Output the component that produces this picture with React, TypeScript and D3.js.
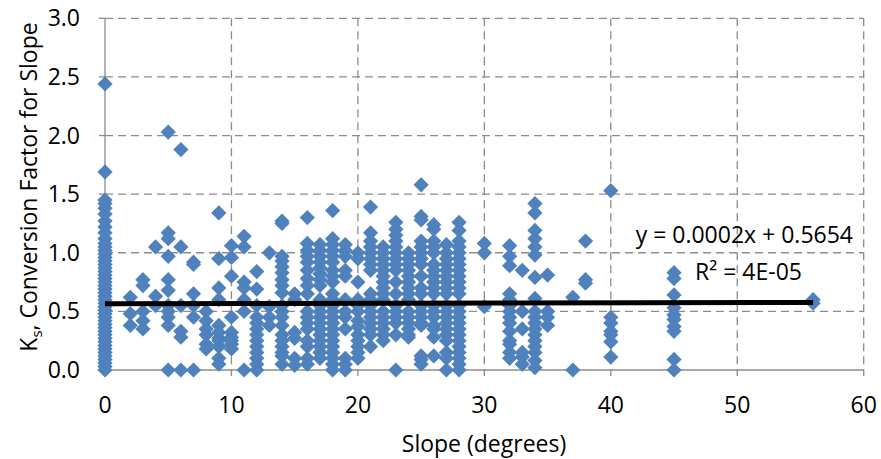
import React from "react";
import * as d3 from "d3";

const xTicks = [0, 10, 20, 30, 40, 50, 60];
const yTicks = [0, 0.5, 1.0, 1.5, 2.0, 2.5, 3.0];

// slope (degrees) column -> Ks values
const slopeValues = [0, 2, 3, 4, 5, 6, 7, 8, 9, 10, 11, 12, 13, 14, 15, 16, 17, 18, 19, 20, 21, 22, 23, 24, 25, 26, 27, 28, 30, 32, 33, 34, 35, 37, 38, 40, 45, 56];
const ksValues: number[][] = [
  [0, 0.03, 0.06, 0.09, 0.12, 0.15, 0.18, 0.21, 0.24, 0.27, 0.3, 0.33, 0.36, 0.39, 0.42, 0.45, 0.48, 0.51, 0.54, 0.57, 0.6, 0.63, 0.66, 0.69, 0.72, 0.75, 0.78, 0.81, 0.84, 0.87, 0.9, 0.93, 0.96, 0.99, 1.02, 1.05, 1.08, 1.12, 1.17, 1.22, 1.27, 1.33, 1.38, 1.42, 1.45, 1.69, 2.44],
  [0.62, 0.48, 0.38],
  [0.77, 0.72, 0.5, 0.42, 0.35],
  [1.05, 0.63, 0.55],
  [2.03, 1.17, 1.12, 0.97, 0.77, 0.68, 0.55, 0.5, 0.45, 0.38, 0.0],
  [1.88, 1.05, 0.55, 0.33, 0.28, 0.0],
  [0.92, 0.9, 0.65, 0.55, 0.45, 0.0],
  [0.5, 0.42, 0.35, 0.3, 0.22, 0.18],
  [1.34, 0.95, 0.7, 0.6, 0.38, 0.32, 0.27, 0.25, 0.2, 0.1, 0.05],
  [1.06, 0.96, 0.8, 0.45, 0.32, 0.28, 0.25, 0.22, 0.18],
  [1.14, 1.05, 0.75, 0.7, 0.6, 0.5, 0.0],
  [0.84, 0.69, 0.55, 0.45, 0.4, 0.35, 0.3, 0.25, 0.2, 0.15, 0.1, 0.05, 0.0],
  [1.0, 0.54, 0.45, 0.38],
  [1.27, 1.25, 0.97, 0.93, 0.88, 0.83, 0.77, 0.72, 0.66, 0.55, 0.5, 0.45, 0.38, 0.3, 0.25, 0.2, 0.15, 0.12, 0.05],
  [0.65, 0.6, 0.32, 0.27, 0.1, 0.04],
  [1.3, 1.08, 1.02, 0.97, 0.92, 0.85, 0.78, 0.72, 0.65, 0.5, 0.45, 0.4, 0.35, 0.25, 0.2, 0.1, 0.05],
  [1.07, 1.02, 0.97, 0.92, 0.87, 0.82, 0.77, 0.72, 0.6, 0.55, 0.5, 0.45, 0.4, 0.35, 0.3, 0.25, 0.2, 0.15, 0.1],
  [1.36, 1.12, 1.07, 1.02, 0.97, 0.92, 0.85, 0.8, 0.75, 0.65, 0.6, 0.55, 0.5, 0.45, 0.4, 0.35, 0.3, 0.25, 0.2, 0.15, 0.1, 0.05, 0.0],
  [1.07, 1.02, 0.97, 0.85, 0.8, 0.6, 0.5, 0.45, 0.35, 0.1, 0.05, 0.0],
  [1.0, 0.95, 0.75, 0.6, 0.55, 0.5, 0.42, 0.37, 0.3, 0.25, 0.2, 0.15, 0.1],
  [1.39, 1.17, 1.1, 1.05, 1.0, 0.95, 0.9, 0.85, 0.65, 0.6, 0.55, 0.5, 0.45, 0.4, 0.35, 0.3, 0.2],
  [1.05, 1.0, 0.95, 0.9, 0.85, 0.8, 0.75, 0.7, 0.65, 0.6, 0.5, 0.45, 0.4, 0.35, 0.3, 0.25],
  [1.26, 1.2, 1.15, 1.1, 1.05, 1.0, 0.95, 0.9, 0.85, 0.75, 0.65, 0.55, 0.5, 0.45, 0.4, 0.3, 0.0],
  [1.0, 0.95, 0.9, 0.85, 0.8, 0.75, 0.7, 0.65, 0.6, 0.5, 0.45, 0.4, 0.35, 0.3, 0.28],
  [1.58, 1.31, 1.28, 1.1, 1.05, 1.0, 0.95, 0.9, 0.8, 0.7, 0.65, 0.55, 0.5, 0.45, 0.4, 0.38, 0.12, 0.09, 0.05],
  [1.24, 1.2, 1.1, 1.05, 1.0, 0.9, 0.85, 0.8, 0.75, 0.7, 0.65, 0.55, 0.5, 0.45, 0.38, 0.35, 0.28, 0.12],
  [1.07, 1.0, 0.95, 0.9, 0.85, 0.8, 0.75, 0.7, 0.65, 0.55, 0.5, 0.45, 0.4, 0.35, 0.3, 0.25, 0.15, 0.1, 0.0],
  [1.26, 1.19, 1.1, 1.05, 1.0, 0.95, 0.9, 0.85, 0.8, 0.75, 0.7, 0.65, 0.55, 0.5, 0.45, 0.4, 0.35, 0.3, 0.25, 0.2, 0.15, 0.1, 0.05, 0.0],
  [1.08, 1.0, 0.54],
  [1.06, 0.97, 0.89, 0.65, 0.6, 0.55, 0.5, 0.45, 0.4, 0.33, 0.25, 0.22, 0.15, 0.1],
  [0.85, 0.5, 0.35, 0.15, 0.11, 0.05],
  [1.42, 1.34, 1.19, 1.12, 1.05, 0.98, 0.79, 0.61, 0.5, 0.45, 0.4, 0.35, 0.3, 0.25, 0.2, 0.15, 0.08, 0.02],
  [0.81, 0.5, 0.45, 0.38],
  [0.62, 0.0],
  [1.1, 0.77, 0.74],
  [1.53, 0.45, 0.4, 0.33, 0.3, 0.24, 0.11],
  [0.83, 0.78, 0.64, 0.53, 0.47, 0.43, 0.37, 0.33, 0.09, 0.0],
  [0.6, 0.57],
];

const trendSlope = 0.0002;
const trendIntercept = 0.5654;
const trendRange = [0, 56];
const equationText = "y = 0.0002x + 0.5654";
const r2Text = "R² = 4E-05";

const W = 881;
const H = 459;
const left = 105;
const right = 863.7;
const top = 18.3;
const bottom = 370;
const FONT = "'Open Sans', sans-serif";
const GRID = "#8c8c8c";
const AXIS = "#8c8c8c";
const BLUE = "#4f81bd";
const FS = 23;

export default function App() {
  const x = d3.scaleLinear().domain([0, 60]).range([left, right]);
  const y = d3.scaleLinear().domain([0, 3]).range([bottom, top]);
  const diamond = d3.symbol().type(d3.symbolDiamond2).size(148)();
  const points: { sx: number; ks: number }[] = [];
  slopeValues.forEach((s, i) => ksValues[i].forEach((k) => points.push({ sx: s, ks: k })));
  const line = d3.line<number>().x((d) => x(d)).y((d) => y(trendSlope * d + trendIntercept));

  return (
    <svg width={W} height={H} style={{ position: "absolute", left: 0, top: 0, background: "#fff" }} fontFamily={FONT}>
      {yTicks.filter((t) => t > 0).map((t) => (
        <line key={"gy" + t} x1={left} x2={right} y1={y(t)} y2={y(t)} stroke={GRID} strokeWidth={1.3} strokeDasharray="8,5" />
      ))}
      {xTicks.filter((t) => t > 0).map((t) => (
        <line key={"gx" + t} x1={x(t)} x2={x(t)} y1={top} y2={bottom} stroke={GRID} strokeWidth={1.3} strokeDasharray="8,5" />
      ))}
      <line x1={left} x2={left} y1={top} y2={bottom} stroke={AXIS} strokeWidth={1.3} />
      <line x1={left} x2={right} y1={bottom} y2={bottom} stroke={AXIS} strokeWidth={1.3} />
      {yTicks.map((t) => (
        <line key={"ty" + t} x1={left - 6} x2={left} y1={y(t)} y2={y(t)} stroke={AXIS} strokeWidth={1.3} />
      ))}
      {xTicks.map((t) => (
        <line key={"tx" + t} x1={x(t)} x2={x(t)} y1={bottom} y2={bottom + 6} stroke={AXIS} strokeWidth={1.3} />
      ))}
      {yTicks.map((t) => (
        <text key={"ly" + t} x={80} y={y(t) + 8} textAnchor="end" fontSize={FS} fill="#000">
          {d3.format(".1f")(t)}
        </text>
      ))}
      {xTicks.map((t) => (
        <text key={"lx" + t} x={x(t)} y={413} textAnchor="middle" fontSize={FS} fill="#000">
          {t}
        </text>
      ))}
      {points.map((p, i) => (
        <path key={"p" + i} d={diamond} transform={`translate(${x(p.sx)},${y(p.ks)})`} fill={BLUE} />
      ))}
      <path d={line(trendRange) || ""} fill="none" stroke="#000" strokeWidth={5} />
      <text x={853} y={243} textAnchor="end" fontSize={FS} fill="#000">{equationText}</text>
      <text x={802} y={280} textAnchor="end" fontSize={FS} fill="#000">{r2Text}</text>
      <text x={484} y={452} textAnchor="middle" fontSize={FS} fill="#000">Slope (degrees)</text>
      <text transform={`translate(37,187) rotate(-90)`} textAnchor="middle" fontSize={FS} fill="#000">
        K<tspan fontSize={15} dy={5}>s</tspan><tspan dy={-5}>, Conversion Factor for Slope</tspan>
      </text>
    </svg>
  );
}
